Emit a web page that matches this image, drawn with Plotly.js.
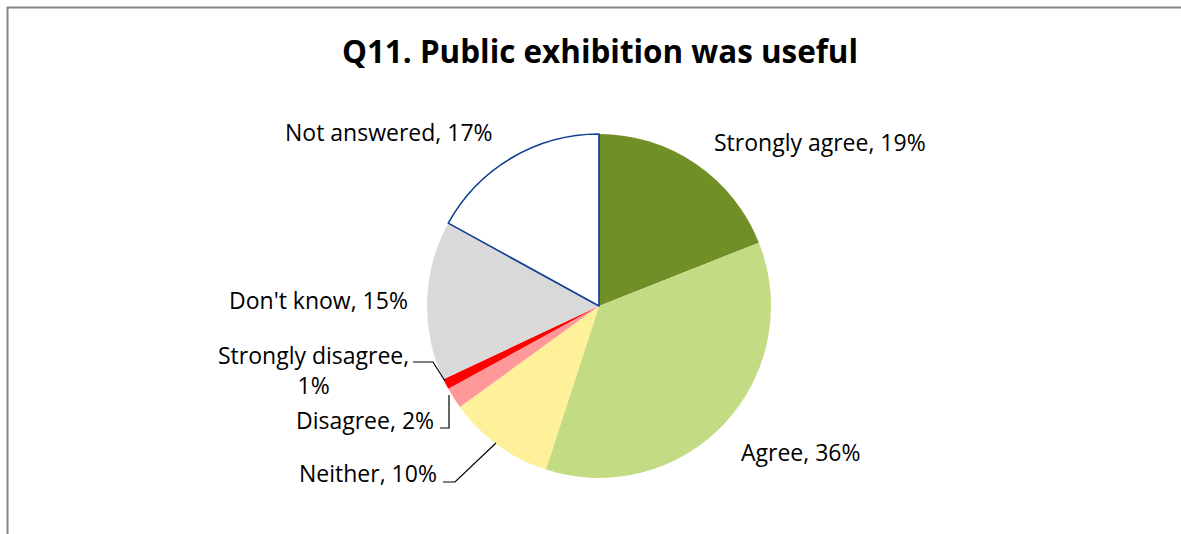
<!DOCTYPE html>
<html>
<head>
<meta charset="utf-8">
<script src="https://cdn.plot.ly/plotly-3.0.1.min.js"></script>
<style>html,body{margin:0;padding:0;background:#fff;}#chart{width:1181px;height:534px;}</style>
</head>
<body>
<div id="chart"></div>
<script>
// Data
const categories = ["Strongly agree", "Agree", "Neither", "Disagree", "Strongly disagree", "Don't know", "Not answered"];
const percentages = [19, 36, 10, 2, 1, 15, 17];
const sliceColors = ["#718F27", "#C3DC84", "#FFF09A", "#FF9999", "#FF0000", "#D9D9D9", "#FFFFFF"];
const chartTitle = "Q11. Public exhibition was useful";

const W = 1181, H = 534;
const px = x => x / W;
const py = y => 1 - y / H;

const FONT = "'Open Sans', Lato, sans-serif";

const trace = {
  type: "pie",
  values: percentages,
  labels: categories,
  sort: false,
  direction: "clockwise",
  rotation: 0,
  textinfo: "none",
  hoverinfo: "label+percent",
  marker: {
    colors: sliceColors,
    line: {
      color: ["rgba(0,0,0,0)", "rgba(0,0,0,0)", "rgba(0,0,0,0)", "rgba(0,0,0,0)", "rgba(0,0,0,0)", "rgba(0,0,0,0)", "#0B3D91"],
      width: [0, 0, 0, 0, 0, 0, 1.6]
    }
  },
  domain: { x: [px(427), px(771)], y: [py(478), py(134)] },
  showlegend: false
};

// label placement (pixel anchors) for each category
const labelPos = [
  { x: 712, y: 142, xa: "left" },
  { x: 739, y: 452, xa: "left" },
  { x: 439, y: 473, xa: "right" },
  { x: 436, y: 420, xa: "right" },
  { x: 313, y: 370, xa: "center" },
  { x: 410, y: 300, xa: "right" },
  { x: 495, y: 132, xa: "right" }
];

const annotations = categories.map((c, i) => {
  let txt = c + ", " + percentages[i] + "%";
  if (c === "Strongly disagree") txt = c + ",<br>" + percentages[i] + "%";
  return {
    xref: "paper", yref: "paper",
    x: px(labelPos[i].x), y: py(labelPos[i].y),
    xanchor: labelPos[i].xa, yanchor: "middle",
    text: txt, showarrow: false,
    align: "center",
    font: { family: FONT, size: 23, color: "#000" }
  };
});

function pathPx(points) {
  return points.map((p, i) => (i ? "L" : "M") + px(p[0]) + "," + py(p[1])).join(" ");
}

const leaderStyle = { color: "#000", width: 1.2 };
const borderStyle = { color: "#868686", width: 2 };
const shapes = [
  { type: "line", xref: "paper", yref: "paper", x0: px(7), y0: py(7.5), x1: 1, y1: py(7.5), line: borderStyle },
  { type: "line", xref: "paper", yref: "paper", x0: px(7.5), y0: py(7), x1: px(7.5), y1: 0, line: borderStyle },
  { type: "path", xref: "paper", yref: "paper", path: pathPx([[413, 362], [433, 362], [445, 381]]), line: leaderStyle },
  { type: "path", xref: "paper", yref: "paper", path: pathPx([[440, 428], [449, 428], [449, 395]]), line: leaderStyle },
  { type: "path", xref: "paper", yref: "paper", path: pathPx([[443, 482], [455, 482], [496, 443]]), line: leaderStyle }
];

const layout = {
  width: W, height: H,
  margin: { l: 0, r: 0, t: 0, b: 0 },
  paper_bgcolor: "#fff",
  plot_bgcolor: "#fff",
  title: {
    text: "<b>" + chartTitle + "</b>",
    font: { family: FONT, size: 31.4, color: "#000" },
    x: 600 / W, xanchor: "center",
    y: 1 - 52 / H, yanchor: "middle",
    xref: "paper", yref: "container"
  },
  annotations: annotations,
  shapes: shapes
};

Plotly.newPlot("chart", [trace], layout, { displayModeBar: false, staticPlot: true });
</script>
</body>
</html>
